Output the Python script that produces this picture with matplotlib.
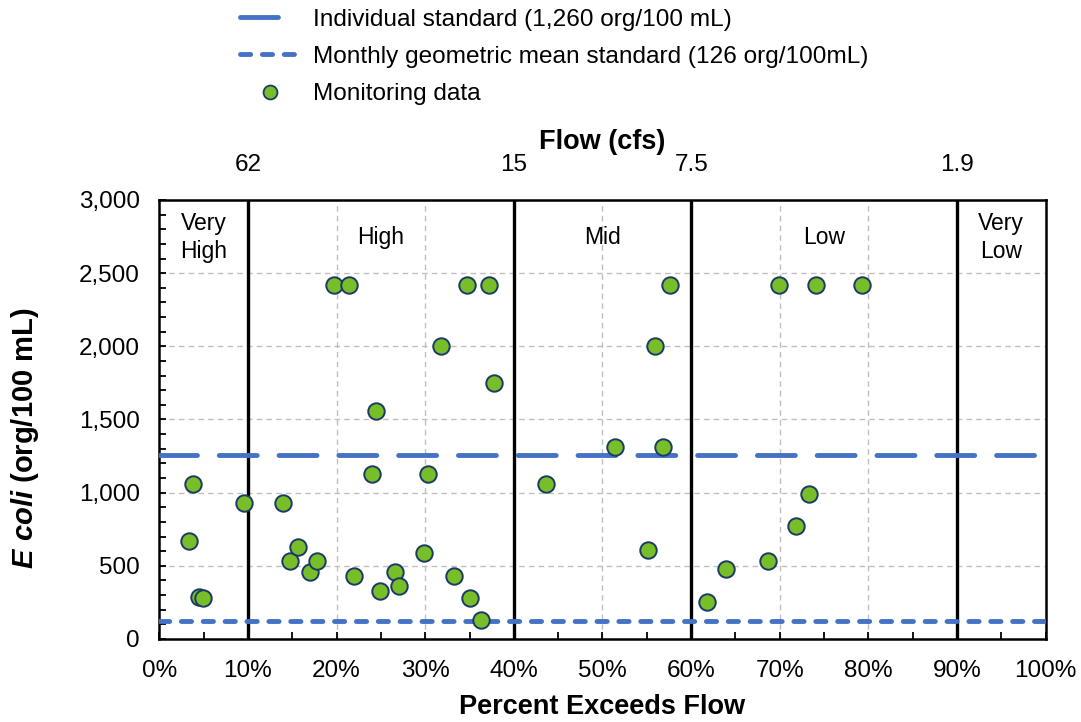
import matplotlib
matplotlib.use("Agg")
import matplotlib.pyplot as plt
from matplotlib.lines import Line2D
from matplotlib.ticker import MultipleLocator, FuncFormatter

plt.rcParams["font.family"] = ["Liberation Sans", "DejaVu Sans"]
plt.rcParams["mathtext.fontset"] = "custom"
plt.rcParams["mathtext.it"] = "Liberation Sans:italic:bold"
plt.rcParams["mathtext.rm"] = "Liberation Sans:bold"

# ── Monitoring data (flow duration percentile vs E. coli) ────────────────────
PCT_EXCEEDS = [3.8, 3.4, 4.5, 4.9, 9.5, 14.0, 14.7, 15.7, 17.0, 17.8,
               19.7, 21.4, 22.0, 24.5, 24.0, 24.9, 26.6, 27.0, 29.9, 30.3,
               31.8, 33.2, 34.7, 35.1, 36.3, 37.2, 37.8, 43.6, 51.4, 55.1,
               55.9, 56.8, 57.6, 61.8, 63.9, 68.7, 69.9, 71.8, 73.3, 74.1,
               79.3]
ECOLI = [1060, 670, 290, 280, 930, 930, 530, 630, 455, 530,
         2420, 2420, 430, 1560, 1130, 330, 455, 365, 590, 1130,
         2000, 430, 2420, 280, 130, 2420, 1750, 1060, 1310, 610,
         2000, 1310, 2420, 250, 480, 530, 2420, 770, 990, 2420,
         2420]

INDIVIDUAL_STD = 1260
GEOMEAN_STD = 126

# flow regime breaks and the matching flows on the top axis
BREAKS = [10, 40, 60, 90]
FLOW_LABELS = ["62", "15", "7.5", "1.9"]
ZONES = ["Very\nHigh", "High", "Mid", "Low", "Very\nLow"]
ZONE_X = [5, 25, 50, 75, 95]

C_BLUE = "#4472C4"
C_GREEN = "#78BE28"
C_EDGE = "#1B3A66"
LONG_DASH = (0, (7.8, 4.5))
SHORT_DASH = (0, (2.1, 2.4))

fig = plt.figure(figsize=(10.81, 7.22), dpi=100)
ax = fig.add_axes([0.1474, 0.115, 0.8199, 0.608])

ax.set_xlim(0, 100)
ax.set_ylim(0, 3000)

# grid
for gx in range(10, 100, 10):
    ax.axvline(gx, color="#BFBFBF", lw=1, ls=(0, (4, 3)), zorder=0)
for gy in range(500, 3000, 500):
    ax.axhline(gy, color="#BFBFBF", lw=1, ls=(0, (4, 3)), zorder=0)

# flow regime boundaries
for b in BREAKS:
    ax.axvline(b, color="black", lw=2.4, zorder=2)

# standards
ax.axhline(INDIVIDUAL_STD, color=C_BLUE, lw=3.5, ls=LONG_DASH,
           dash_capstyle="round", zorder=3)
ax.axhline(GEOMEAN_STD, color=C_BLUE, lw=3.5, ls=SHORT_DASH,
           dash_capstyle="round", zorder=3)

ax.scatter(PCT_EXCEEDS, ECOLI, s=140, color=C_GREEN, edgecolor=C_EDGE,
           linewidth=1.4, zorder=4)

for zx, name in zip(ZONE_X, ZONES):
    ax.text(zx, 2745, name, ha="center", va="center", fontsize=16.5,
            linespacing=1.3, zorder=5)

# bottom / left axes
ax.xaxis.set_major_locator(MultipleLocator(10))
ax.xaxis.set_minor_locator(MultipleLocator(5))
ax.xaxis.set_major_formatter(FuncFormatter(lambda v, p: f"{v:.0f}%"))
ax.yaxis.set_major_locator(MultipleLocator(500))
ax.yaxis.set_minor_locator(MultipleLocator(100))
ax.yaxis.set_major_formatter(FuncFormatter(lambda v, p: f"{v:,.0f}"))
ax.tick_params(which="both", direction="in", length=5, width=1.3,
               labelsize=17.5)
ax.tick_params(axis="x", which="both", top=False, pad=15)
ax.tick_params(axis="y", which="both", pad=14)
for sp in ax.spines.values():
    sp.set_linewidth(1.8)

ax.set_xlabel("Percent Exceeds Flow", fontsize=19.5, fontweight="bold",
              labelpad=9)
ax.set_ylabel(r"$\mathit{E\ coli}$ (org/100 mL)", fontsize=21,
              fontweight="bold")
ax.yaxis.set_label_coords(-0.134, 0.458)

# top axis: flow in cfs at the regime breaks
top = ax.secondary_xaxis("top")
top.set_xticks(BREAKS)
top.set_xticklabels(FLOW_LABELS)
top.tick_params(length=0, labelsize=17.5, pad=17)
top.set_xlabel("Flow (cfs)", fontsize=19.5, fontweight="bold", labelpad=4)

# legend handles: one long dash, a row of short dashes, a single marker
handles = [
    Line2D([], [], color=C_BLUE, lw=3.5, ls=(0, (7.8, 9)),
           dash_capstyle="round"),
    Line2D([], [], color=C_BLUE, lw=3.5, ls=SHORT_DASH, dash_capstyle="round"),
    Line2D([], [], ls="none", marker="o", markersize=10, color=C_GREEN,
           markeredgecolor=C_EDGE, markeredgewidth=1.3),
]
labels = [
    "Individual standard (1,260 org/100 mL)",
    "Monthly geometric mean standard (126 org/100mL)",
    "Monitoring data",
]
fig.legend(handles, labels, loc="upper left",
           bbox_to_anchor=(240 / 1081, 1 - 8.5 / 722), frameon=False,
           fontsize=17.6, handlelength=2.46, handletextpad=0.53,
           labelspacing=0.62, borderaxespad=0, borderpad=0)

fig.savefig("out.png", dpi=100)
